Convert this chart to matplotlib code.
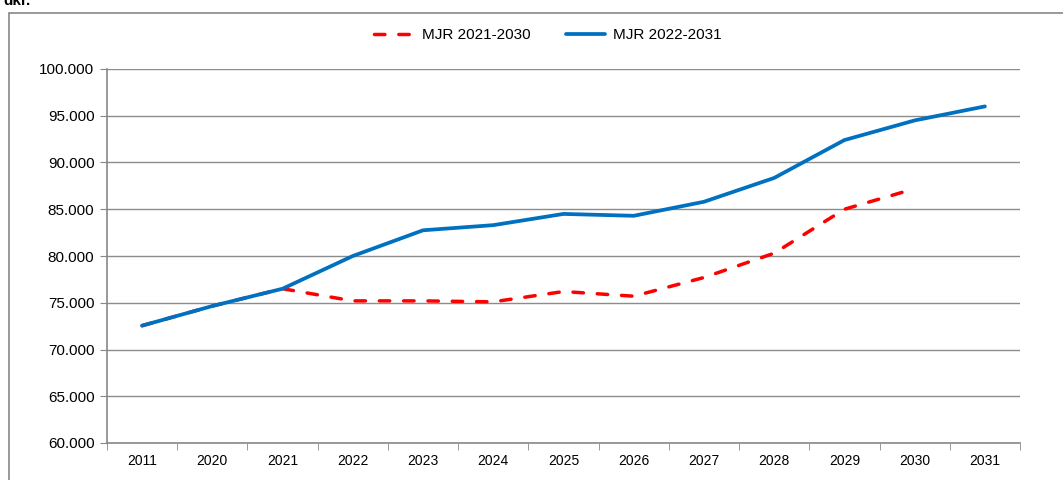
import numpy as np
import matplotlib
matplotlib.use("Agg")
import matplotlib.pyplot as plt
from matplotlib.patches import Rectangle
from matplotlib.ticker import FuncFormatter, FixedLocator

plt.rcParams['font.family'] = ['Liberation Sans', 'DejaVu Sans']

years = ["2011", "2020", "2021", "2022", "2023", "2024", "2025", "2026", "2027", "2028", "2029", "2030", "2031"]
# MJR 2021-2030 (stops at 2030)
mjr_2021 = [72550, 74650, 76500, 75200, 75200, 75100, 76200, 75700, 77700, 80300, 85000, 87200]
# MJR 2022-2031
mjr_2022 = [72550, 74650, 76500, 80000, 82750, 83300, 84500, 84300, 85800, 88350, 92400, 94500, 96000]

fig = plt.figure(figsize=(10.63, 4.8), dpi=100)
ax = fig.add_axes([107/1063, 37/480, (1020-107)/1063, (443-69)/480])

x = np.arange(len(years))
ax.plot(x[:len(mjr_2021)], mjr_2021, color="#ff0000", lw=2.5, dashes=(3, 4),
        dash_capstyle="round", label="MJR 2021-2030", zorder=3)
ax.plot(x, mjr_2022, color="#0070c0", lw=2.7, solid_capstyle="round",
        label="MJR 2022-2031", zorder=4)

ax.set_xlim(-0.5, len(years) - 0.5)
ax.set_ylim(60000, 100000)
ax.set_yticks(np.arange(60000, 100001, 5000))
ax.yaxis.set_major_formatter(FuncFormatter(lambda v, p: f"{v/1000:.3f}"))
ax.tick_params(axis="y", labelsize=11, length=5, color="#888888", pad=4)
ax.grid(axis="y", color="#8c8c8c", lw=1)

ax.set_xticks(x)
ax.set_xticklabels(years)
ax.xaxis.set_minor_locator(FixedLocator(np.arange(-0.5, len(years), 1)))
ax.tick_params(axis="x", which="major", length=0, labelsize=10, pad=8)
ax.tick_params(axis="x", which="minor", length=5, color="#888888")

for s in ["top", "right"]:
    ax.spines[s].set_visible(False)
for s in ["left", "bottom"]:
    ax.spines[s].set_color("#888888")
    ax.spines[s].set_linewidth(1.2)
ax.set_axisbelow(True)

fig.legend(loc="center", bbox_to_anchor=(548/1063, 1 - 35/480), ncol=2, frameon=False,
           fontsize=11, handlelength=2.6, columnspacing=2.3, handletextpad=0.5)

# chart area border (cut off at right/bottom)
fig.patches.append(Rectangle((9/1063, -0.1), 1.2, 1 - 13/480 + 0.1, transform=fig.transFigure,
                             fill=False, edgecolor="#888888", lw=1.2))
fig.text(0.003, 1 - 5/480, "dkr.", fontsize=11, fontweight="bold", va="baseline")

fig.savefig("out.png", dpi=100)
